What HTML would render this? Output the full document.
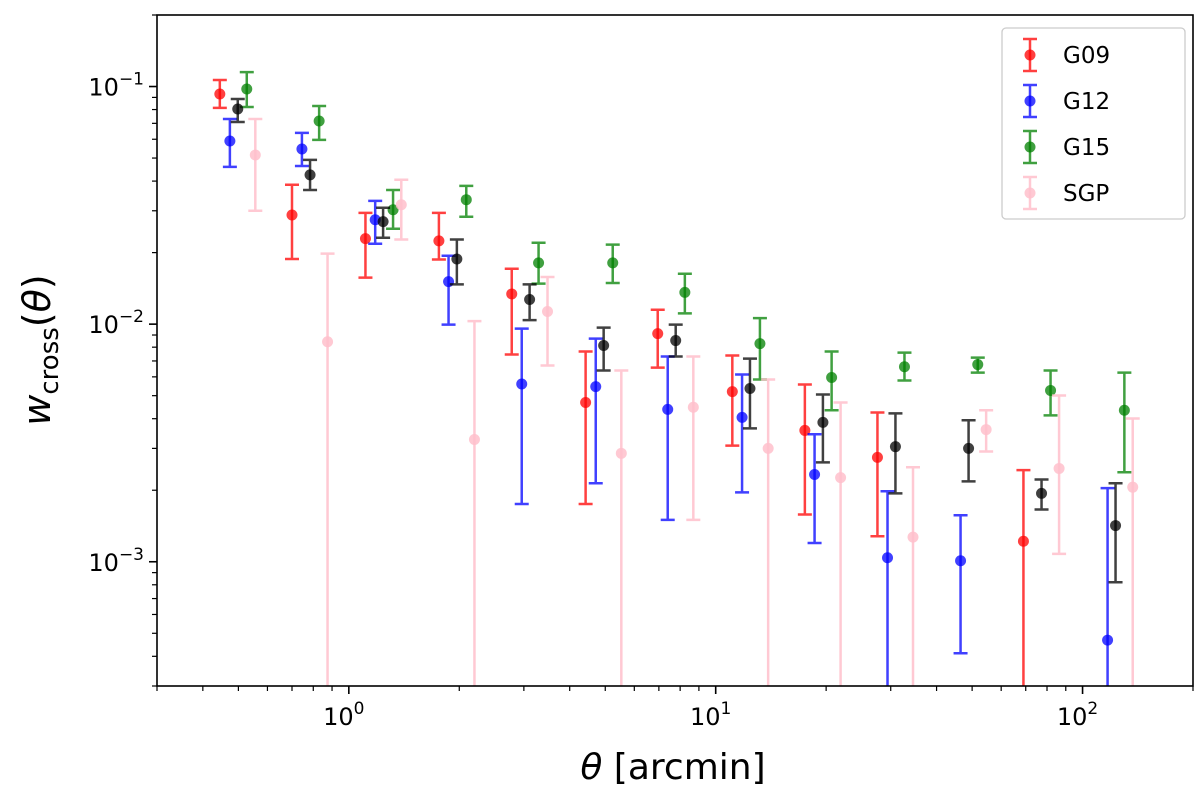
<!DOCTYPE html>
<html><head><meta charset="utf-8"><style>
html,body{margin:0;padding:0;background:#fff;width:1200px;height:797px;overflow:hidden}
svg{display:block;font-family:"DejaVu Sans","Liberation Sans",sans-serif}
</style></head><body>
<svg id="chart" width="1200" height="797" viewBox="0 0 1200 797"></svg>
<script>
const NS="http://www.w3.org/2000/svg";
const xTicks=[1,10,100];
const xTickLabels=["0","1","2"];
const yTicks=[0.1,0.01,0.001];
const yTickLabels=["−1","−2","−3"];
const seriesNames=["G09","G12","G15","SGP"];
const g09Theta=[0.445,0.70,1.11,1.76,2.78,4.42,6.95,11.1,17.5,27.6,69];
const g09W=[0.093,0.0288,0.0229,0.0224,0.0134,0.00468,0.00912,0.0052,0.00357,0.00275,0.00122];
const g09Lo=[0.0813,0.0188,0.0157,0.0187,0.00745,0.00175,0.00656,0.00308,0.00158,0.00128,0.00001];
const g09Hi=[0.1065,0.0386,0.0294,0.0294,0.0171,0.00767,0.0115,0.00738,0.00557,0.00425,0.00243];
const g12Theta=[0.474,0.745,1.18,1.87,2.96,4.71,7.4,11.8,18.6,29.4,46.5,117];
const g12W=[0.059,0.0546,0.0275,0.0151,0.0056,0.00546,0.00438,0.00405,0.00233,0.00104,0.00101,0.000468];
const g12Lo=[0.0459,0.0463,0.0218,0.00995,0.00175,0.00214,0.0015,0.00196,0.0012,0.00001,0.000412,0.00001];
const g12Hi=[0.073,0.0638,0.033,0.0194,0.00958,0.00869,0.00731,0.00614,0.00344,0.00198,0.00157,0.00204];
const g15Theta=[0.527,0.83,1.32,2.09,3.29,5.24,8.24,13.2,20.7,32.7,51.8,81.8,130];
const g15W=[0.0976,0.0716,0.0303,0.0334,0.0181,0.0181,0.0136,0.00828,0.00596,0.00662,0.00676,0.00526,0.00434];
const g15Lo=[0.082,0.0596,0.0252,0.0283,0.0148,0.0149,0.0111,0.00585,0.00434,0.00579,0.00625,0.00413,0.00238];
const g15Hi=[0.115,0.0828,0.0367,0.0382,0.022,0.0216,0.0163,0.0106,0.00767,0.00759,0.00723,0.00638,0.00625];
const allTheta=[0.498,0.784,1.24,1.97,3.11,4.95,7.78,12.4,19.6,30.9,48.9,77.3,123];
const allW=[0.0804,0.0425,0.027,0.0188,0.0127,0.00813,0.00853,0.00536,0.00386,0.00305,0.003,0.00194,0.00142];
const allLo=[0.0709,0.0367,0.0231,0.0147,0.0104,0.00638,0.00731,0.00364,0.00262,0.00194,0.00218,0.00166,0.00082];
const allHi=[0.0886,0.0491,0.0309,0.0227,0.0147,0.00967,0.00995,0.00716,0.00506,0.00421,0.00394,0.00222,0.00214];
const sgpTheta=[0.556,0.875,1.39,2.2,3.48,5.53,8.69,13.9,21.9,34.5,54.6,86.3,137];
const sgpW=[0.0515,0.00843,0.0318,0.00327,0.0113,0.00286,0.00447,0.003,0.00226,0.00127,0.0036,0.00247,0.00206];
const sgpLo=[0.03,0.00001,0.0227,0.00001,0.0067,0.00001,0.0015,0.00001,0.00001,0.00001,0.00291,0.00108,0.00001];
const sgpHi=[0.073,0.0198,0.0405,0.0103,0.0158,0.00638,0.00731,0.00585,0.00468,0.0025,0.00434,0.00501,0.00401];

const L=157,R=1193,T=15,B=686;
const xmin=Math.log10(0.3),xmax=Math.log10(200),ymin=Math.log10(3e-4),ymax=Math.log10(0.2);
function xs(v){return L+(Math.log10(v)-xmin)/(xmax-xmin)*(R-L);}
function ys(v){return B-(Math.log10(v)-ymin)/(ymax-ymin)*(B-T);}
function clampY(y){return Math.max(T-2,Math.min(B+2,y));}
const svg=document.getElementById('chart');
function el(tag,attrs,parent){const e=document.createElementNS(NS,tag);for(const k in attrs)e.setAttribute(k,attrs[k]);(parent||svg).appendChild(e);return e;}

const defs=el('defs',{});const cp=el('clipPath',{id:'clip'},defs);el('rect',{x:L,y:T,width:R-L,height:B-T},cp);
const plot=el('g',{'clip-path':'url(#clip)'});



function drawSeries(name,color,th,w,lo,hi){
  const g=el('g',{},plot);
  
  
  for(let i=0;i<th.length;i++){
    const x=xs(th[i]),y=ys(w[i]),y1=clampY(ys(lo[i])),y2=clampY(ys(hi[i]));
    const bar=el('path',{d:`M${x},${y1}V${y2}M${x-7},${y1}H${x+7}M${x-7},${y2}H${x+7}`,stroke:color,'stroke-width':2.5,fill:'none'},g);
    
    
    const c=el('circle',{cx:x,cy:y,r:5.5,fill:color},g);
    
    
  }
}
drawSeries('G09','rgba(255,0,0,0.75)',g09Theta,g09W,g09Lo,g09Hi);
drawSeries('G12','rgba(0,0,255,0.75)',g12Theta,g12W,g12Lo,g12Hi);
drawSeries('G15','rgba(0,128,0,0.75)',g15Theta,g15W,g15Lo,g15Hi);
drawSeries('all','rgba(0,0,0,0.75)',allTheta,allW,allLo,allHi);
drawSeries('SGP','rgba(255,192,203,0.85)',sgpTheta,sgpW,sgpLo,sgpHi);

const frame=el('rect',{x:L,y:T,width:R-L,height:B-T,fill:'none',stroke:'#000','stroke-width':1.6});



const xa=el('g',{});


for(let d=-1;d<=2;d++)for(let m=1;m<10;m++){const v=m*Math.pow(10,d);if(v<0.3||v>200)continue;const x=xs(v);el('line',{x1:x,x2:x,y1:B,y2:B+(m==1?8:5),stroke:'#000','stroke-width':m==1?1.6:1.2},xa);}
xTicks.forEach((v,i)=>{const t=el('text',{x:xs(v)-5,y:B+39,'font-size':24,'text-anchor':'middle'},xa);t.textContent='10';const s=el('tspan',{dy:-11,'font-size':17},t);s.textContent=xTickLabels[i];
});
const ya=el('g',{});


for(let d=-4;d<=-1;d++)for(let m=1;m<10;m++){const v=m*Math.pow(10,d);if(v<3e-4||v>0.2)continue;const y=ys(v);el('line',{x1:L,x2:L-(m==1?8:5),y1:y,y2:y,stroke:'#000','stroke-width':m==1?1.6:1.2},ya);}
yTicks.forEach((v,i)=>{const t=el('text',{x:L-13,y:ys(v)+9,'font-size':24,'text-anchor':'end'},ya);t.textContent='10';const s=el('tspan',{dy:-11,'font-size':17},t);s.textContent=yTickLabels[i];
});

const xl=el('text',{x:673,y:779,'font-size':36,'text-anchor':'middle'});

xl.innerHTML='<tspan font-style="italic">θ</tspan> [arcmin]';
const yl=el('text',{transform:'translate(50,350) rotate(-90)','font-size':38,'text-anchor':'middle'});

yl.innerHTML='<tspan font-style="italic">w</tspan><tspan font-size="26" dy="8">cross</tspan><tspan dy="-8">(</tspan><tspan font-style="italic">θ</tspan>)';

const lg=el('g',{});

el('rect',{x:1002,y:28,width:183,height:191,rx:4,fill:'#fff',stroke:'#ccc','stroke-width':1.3},lg);
const lc=['rgba(255,0,0,0.75)','rgba(0,0,255,0.75)','rgba(0,128,0,0.75)','rgba(255,192,203,0.85)'];
seriesNames.forEach((n,i)=>{const y=55+i*46;const g=el('g',{},lg);

el('path',{d:`M1030,${y-16}V${y+16}M1023,${y-16}H1037M1023,${y+16}H1037`,stroke:lc[i],'stroke-width':2.5,fill:'none'},g);
el('circle',{cx:1030,cy:y,r:5.5,fill:lc[i]},g);
const t=el('text',{x:1063,y:y+8,'font-size':23},g);t.textContent=n;});
</script>
</body></html>
